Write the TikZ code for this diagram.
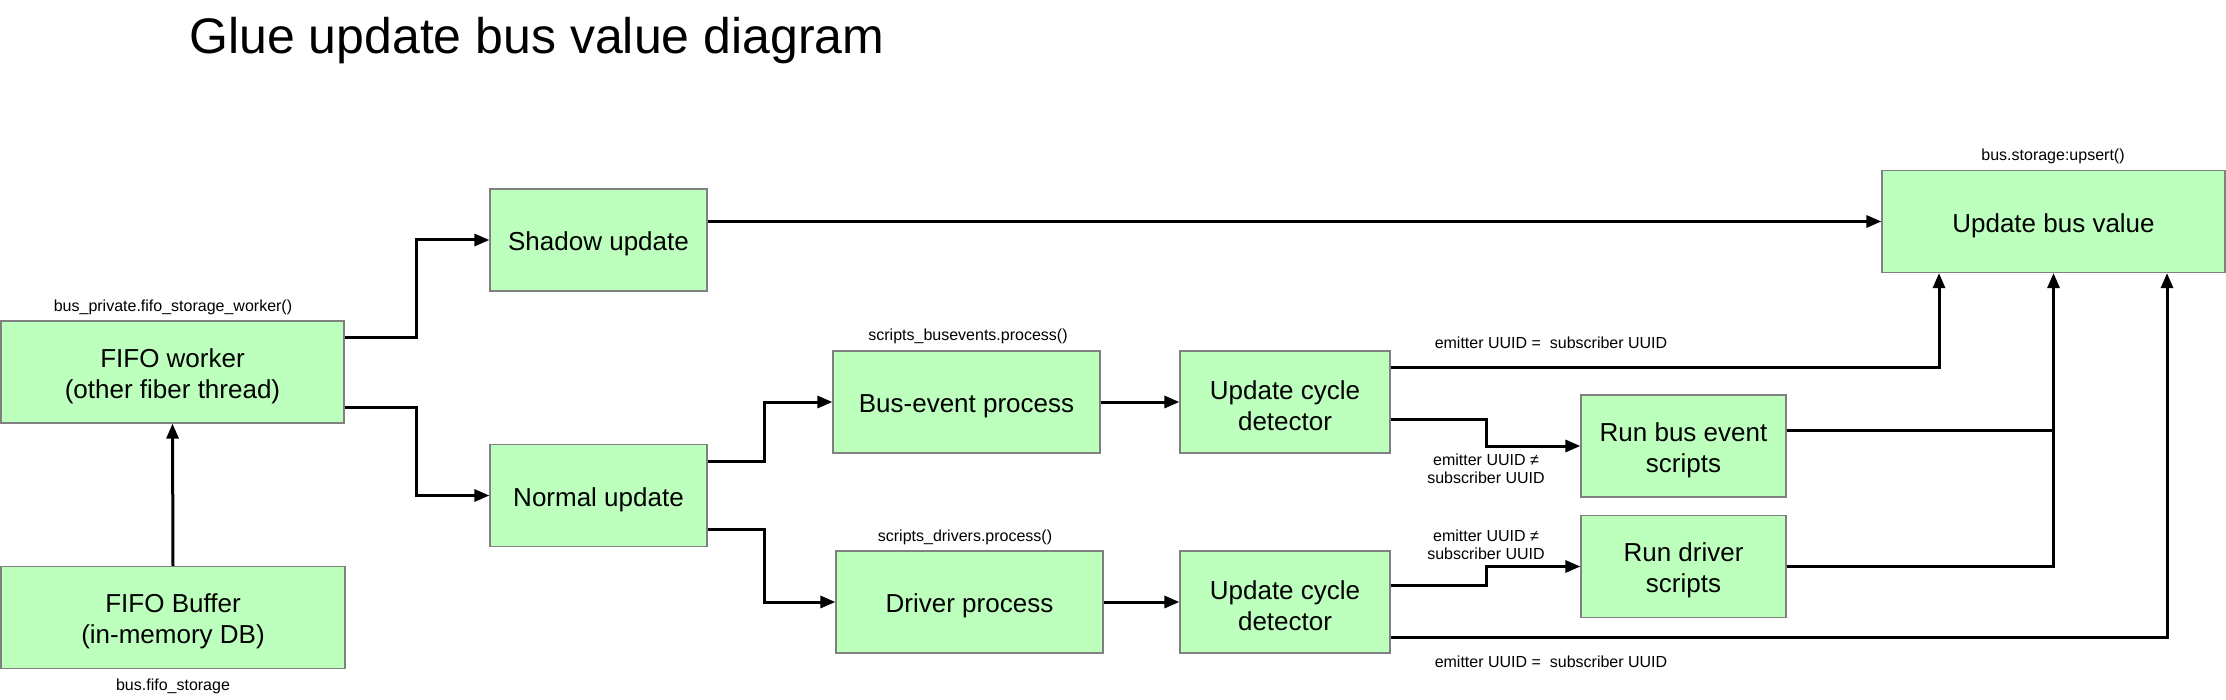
\documentclass[tikz,border=0pt]{standalone}
\usepackage{fontspec}
\setmainfont{Liberation Sans}
\usetikzlibrary{arrows.meta}
\definecolor{boxfill}{RGB}{189,255,189}
\definecolor{boxline}{RGB}{128,128,128}
\newcommand{\boxstrut}{\rule{0pt}{13.3pt}}
\begin{document}
\begin{tikzpicture}[x=0.5pt,y=-0.5pt,
 box/.style={draw=boxline,line width=0.6pt,fill=boxfill,minimum height=51pt,inner sep=0pt,align=center,font=\fontsize{13}{15.6}\selectfont},
 lbl/.style={inner sep=0pt,align=center,font=\fontsize{8}{9}\selectfont},
 arr/.style={line width=1.5pt,-{Triangle[length=7.5pt,width=6pt]}},
 ln/.style={line width=1.5pt}]
\useasboundingbox (0,0) rectangle (2226,700);

\node[anchor=base west,inner sep=0pt,font=\fontsize{25}{30}\selectfont] (title) at (189,54) {Glue update bus value diagram};

% boxes
\node[box,minimum width=171.5pt] (worker) at (172.5,372) {\boxstrut FIFO worker\\(other fiber thread)};
\node[box,minimum width=172pt] (buffer) at (173,617.5) {\boxstrut FIFO Buffer\\(in-memory DB)};
\node[box,minimum width=108.5pt] (shadow) at (598.5,240) {\boxstrut Shadow update};
\node[box,minimum width=108.5pt] (normal) at (598.5,495.5) {\boxstrut Normal update};
\node[box,minimum width=133.5pt] (busev) at (966.5,402) {\boxstrut Bus-event process};
\node[box,minimum width=133.5pt] (driver) at (969.5,602) {\boxstrut Driver process};
\node[box,minimum width=105pt] (ucdA) at (1285,402) {\boxstrut Update cycle\\detector};
\node[box,minimum width=105pt] (ucdB) at (1285,602) {\boxstrut Update cycle\\detector};
\node[box,minimum width=102.5pt] (runbus) at (1683.5,446) {\boxstrut Run bus event\\scripts};
\node[box,minimum width=102.5pt] (rundrv) at (1683.5,566.5) {\boxstrut Run driver\\scripts};
\node[box,minimum width=171.5pt] (ubv) at (2053.5,221.5) {\boxstrut Update bus value};

% box labels
\node[lbl] (lworker) at (173,307) {bus\_private.fifo\_storage\_worker()};
\node[lbl] (lbuffer) at (173,686) {bus.fifo\_storage};
\node[lbl] (lbusev) at (968,336) {scripts\_busevents.process()};
\node[lbl] (ldriver) at (965,537) {scripts\_drivers.process()};
\node[lbl] (lubv) at (2053,156) {bus.storage:upsert()};

% connector labels
\node[lbl] (eqA) at (1551,343) {emitter UUID =~ subscriber UUID};
\node[lbl] (eqB) at (1551,662) {emitter UUID =~ subscriber UUID};
\node[lbl] (neA) at (1486,469) {emitter UUID ≠\\subscriber UUID};
\node[lbl] (neB) at (1486,545) {emitter UUID ≠\\subscriber UUID};

% connectors
\draw[arr] (buffer.north) -- (worker.south);
\draw[arr] (worker.east |- 0,337) -- (416,337) |- (shadow.west);
\draw[arr] (worker.east |- 0,407) -- (416,407) |- (normal.west);
\draw[arr] (shadow.east |- ubv.west) -- (ubv.west);
\draw[arr] (normal.east |- 0,461) -- (764,461) |- (busev.west);
\draw[arr] (normal.east |- 0,529) -- (764,529) |- (driver.west);
\draw[arr] (busev.east) -- (ucdA.west);
\draw[arr] (driver.east) -- (ucdB.west);
\draw[arr] (ucdA.east |- 0,367) -| (ubv.south -| 1939,0);
\draw[arr] (ucdA.east |- 0,419) -- (1486,419) |- (runbus.west);
\draw[arr] (ucdB.east |- 0,585) -- (1486,585) |- (rundrv.west);
\draw[arr] (ucdB.east |- 0,637) -| (ubv.south -| 2167,0);
\coordinate (junc) at (ubv.south |- 0,430);
\draw[arr] (rundrv.east) -| (ubv.south);
\draw[ln] (runbus.east |- 0,430) -- (junc);
\end{tikzpicture}
\end{document}
